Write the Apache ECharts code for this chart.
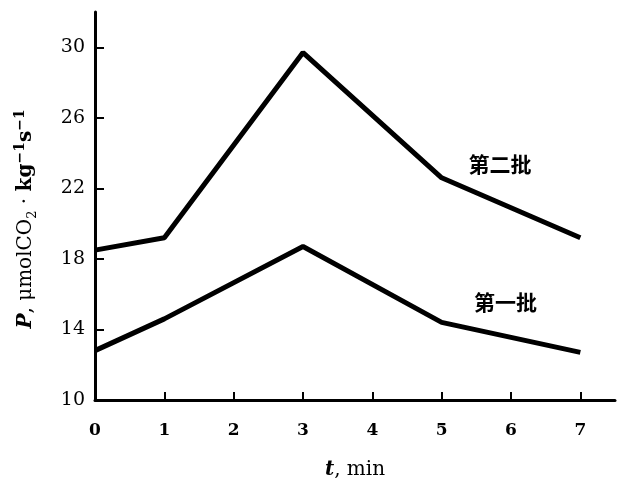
<!DOCTYPE html>
<html>
<head>
<meta charset="utf-8">
<script src="https://cdn.jsdelivr.net/npm/echarts@6/dist/echarts.min.js"></script>
<style>
  html, body { margin: 0; padding: 0; background: #fff; }
  #chart { width: 622px; height: 491px; }
</style>
</head>
<body>
<div id="chart"></div>
<script>
// time points, min
const times = [0, 1, 3, 5, 7]
// 第二批 (second batch)
const batch2 = [18.5, 19.2, 29.7, 22.6, 19.2]
// 第一批 (first batch)
const batch1 = [12.8, 14.6, 18.7, 14.4, 12.7]
const xTicks = [0, 1, 2, 3, 4, 5, 6, 7]
const yTicks = [10, 14, 18, 22, 26, 30]

const chart = echarts.init(document.getElementById('chart'))

const serif = 'DejaVu Serif'
const cjk = 'Noto Sans CJK SC'

function pairs(values) {
  return times.map((t, i) => [t, values[i]])
}

function lineSeries(name, values, labelAt) {
  return {
    name: name,
    type: 'line',
    data: pairs(values),
    symbol: 'none',
    lineStyle: { color: '#000', width: 5 },
    markPoint: {
      symbol: 'circle',
      symbolSize: 1,
      itemStyle: { color: 'rgba(0,0,0,0)' },
      label: {
        show: true,
        position: 'inside',
        formatter: name,
        color: '#000',
        fontFamily: cjk,
        fontWeight: 'bold',
        fontSize: 21
      },
      data: [{ coord: labelAt }]
    }
  }
}

const nameStyle = { fontFamily: serif, fontSize: 20, color: '#000' }

chart.setOption({
  animation: false,
  grid: {
    left: 95,
    right: 7,
    top: 12,
    bottom: 91
  },
  xAxis: {
    type: 'value',
    min: 0,
    max: 7.5,
    name: '{it|t}{rm|, min}',
    nameLocation: 'middle',
    nameGap: 60,
    nameTextStyle: {
      rich: {
        it: { fontFamily: serif, fontStyle: 'italic', fontWeight: 'bold', fontSize: 20, color: '#000' },
        rm: { fontFamily: serif, fontSize: 20, color: '#000' }
      }
    },
    axisLine: { lineStyle: { color: '#000', width: 3 } },
    axisTick: {
      inside: true,
      length: 8,
      customValues: xTicks,
      lineStyle: { color: '#000', width: 2 }
    },
    axisLabel: {
      customValues: xTicks,
      margin: 22,
      color: '#000',
      fontFamily: serif,
      fontWeight: 'bold',
      fontSize: 17
    },
    splitLine: { show: false }
  },
  yAxis: {
    type: 'value',
    min: 10,
    max: 32,
    name: '{it|P}{rm|, μmolCO}{sub|2}{rm| · }{bd|kg}{sup|−1}{bd|s}{sup|−1}',
    nameLocation: 'middle',
    nameRotate: 90,
    nameGap: 56,
    nameTextStyle: {
      padding: [0, 26, 0, 0],
      rich: {
        it: Object.assign({}, nameStyle, { fontStyle: 'italic', fontWeight: 'bold' }),
        rm: nameStyle,
        bd: Object.assign({}, nameStyle, { fontWeight: 'bold' }),
        sub: { fontFamily: serif, fontSize: 13, color: '#000', verticalAlign: 'bottom', lineHeight: 26 },
        sup: { fontFamily: serif, fontSize: 14, fontWeight: 'bold', color: '#000', verticalAlign: 'top', lineHeight: 26 }
      }
    },
    axisLine: { show: true, lineStyle: { color: '#000', width: 3 } },
    axisTick: {
      show: true,
      inside: true,
      length: 9,
      customValues: yTicks,
      lineStyle: { color: '#000', width: 2 }
    },
    axisLabel: {
      customValues: yTicks,
      margin: 10,
      color: '#000',
      fontFamily: serif,
      fontSize: 19
    },
    splitLine: { show: false }
  },
  series: [
    lineSeries('第二批', batch2, [5.84, 23.4]),
    lineSeries('第一批', batch1, [5.92, 15.55])
  ]
})
</script>
</body>
</html>
